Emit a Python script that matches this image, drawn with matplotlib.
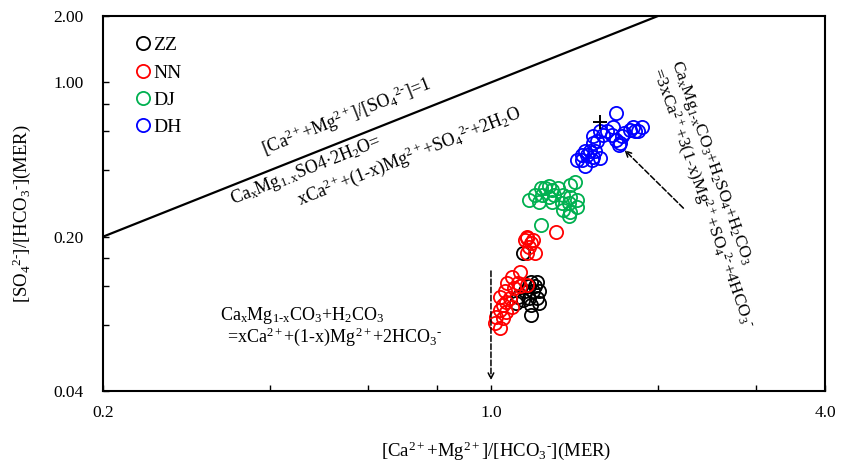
import matplotlib
matplotlib.use("Agg")
import matplotlib.pyplot as plt
from matplotlib.ticker import FixedLocator, FixedFormatter, NullFormatter

plt.rcParams["font.family"] = ["Liberation Serif", "DejaVu Serif"]
plt.rcParams["mathtext.fontset"] = "custom"
plt.rcParams["mathtext.rm"] = "Liberation Serif"
plt.rcParams["mathtext.it"] = "Liberation Serif:italic"
plt.rcParams["mathtext.default"] = "rm"

# [Ca+Mg]/[HCO3] (x) and [SO4]/[HCO3] (y), milliequivalent ratios
zz_x = [1.14, 1.18, 1.21, 1.17, 1.20, 1.15, 1.19, 1.22, 1.12, 1.17, 1.21,
        1.11, 1.14, 1.18, 1.22, 1.18]
zz_y = [0.169, 0.125, 0.125, 0.119, 0.119, 0.113, 0.113, 0.113, 0.107,
        0.1056, 0.1056, 0.100, 0.1034, 0.098, 0.100, 0.0883]

nn_x = [1.31, 1.16, 1.19, 1.16, 1.15, 1.18, 1.17, 1.20, 1.16, 1.09, 1.13,
        1.07, 1.12, 1.16, 1.10, 1.06, 1.04, 1.08, 1.065, 1.05, 1.09, 1.04,
        1.065, 1.02, 1.05, 1.015, 1.04, 1.13]
nn_y = [0.211, 0.197, 0.193, 0.200, 0.193, 0.187, 0.180, 0.169, 0.169,
        0.132, 0.139, 0.123, 0.123, 0.121, 0.117, 0.113, 0.107, 0.1056,
        0.1016, 0.098, 0.0965, 0.0931, 0.0915, 0.0868, 0.0857, 0.0813,
        0.0772, 0.119]

dj_x = [1.42, 1.39, 1.23, 1.25, 1.29, 1.32, 1.20, 1.235, 1.27, 1.35, 1.39,
        1.43, 1.22, 1.29, 1.34, 1.38, 1.43, 1.35, 1.39, 1.38, 1.23, 1.17,
        1.30, 1.27]
dj_y = [0.355, 0.343, 0.333, 0.333, 0.326, 0.333, 0.309, 0.309, 0.304,
        0.309, 0.304, 0.294, 0.288, 0.288, 0.284, 0.284, 0.274, 0.264,
        0.260, 0.247, 0.226, 0.294, 0.310, 0.340]

dh_x = [1.68, 1.57, 1.62, 1.65, 1.59, 1.53, 1.53, 1.55, 1.48, 1.51, 1.54,
        1.46, 1.49, 1.53, 1.46, 1.52, 1.57, 1.48, 1.68, 1.71, 1.74, 1.78,
        1.82, 1.84, 1.80, 1.72, 1.70, 1.43, 1.87, 1.66]
dh_y = [0.725, 0.60, 0.60, 0.58, 0.58, 0.57, 0.53, 0.54, 0.49, 0.49, 0.49,
        0.47, 0.47, 0.46, 0.445, 0.445, 0.455, 0.42, 0.55, 0.53, 0.59, 0.61,
        0.60, 0.60, 0.63, 0.57, 0.52, 0.445, 0.63, 0.63]

groups = ["ZZ", "NN", "DJ", "DH"]
colors = ["black", "red", "#00b050", "blue"]

fig = plt.figure(figsize=(8.42, 4.63), dpi=100)
ax = fig.add_axes([0.1223, 0.1555, 0.8577, 0.81])

for name, xs, ys, c in zip(groups, [zz_x, nn_x, dj_x, dh_x],
                           [zz_y, nn_y, dj_y, dh_y], colors):
    ax.plot(xs, ys, "o", mfc="none", mec=c, mew=1.3, ms=9.5, label=name)

ax.plot([1.57], [0.665], "+", color="black", ms=10, mew=1.4)

# equal-molar line [Ca+Mg] = [SO4]
ax.plot([0.2, 2.0], [0.2, 2.0], color="black", lw=1.6)

ax.set_xscale("log")
ax.set_yscale("log")
ax.set_xlim(0.2, 4.0)
ax.set_ylim(0.04, 2.0)

ax.xaxis.set_major_locator(FixedLocator([0.2, 1.0, 4.0]))
ax.xaxis.set_major_formatter(FixedFormatter(["0.2", "1.0", "4.0"]))
ax.xaxis.set_minor_locator(FixedLocator([0.4, 0.6, 0.8, 2.0, 3.0]))
ax.xaxis.set_minor_formatter(NullFormatter())
ax.yaxis.set_major_locator(FixedLocator([0.04, 0.2, 1.0, 2.0]))
ax.yaxis.set_major_formatter(FixedFormatter(["0.04", "0.20", "1.00", "2.00"]))
ax.yaxis.set_minor_locator(FixedLocator([0.08, 0.12, 0.16, 0.4, 0.6, 0.8]))
ax.yaxis.set_minor_formatter(NullFormatter())

ax.tick_params(which="both", direction="in", length=4, width=1)
ax.tick_params(axis="x", which="major", pad=10, labelsize=12.5)
ax.tick_params(axis="y", which="major", pad=14, labelsize=12.5)
for s in ax.spines.values():
    s.set_linewidth(1.5)

ax.set_xlabel(r"[Ca$^{2+}$+Mg$^{2+}$]/[HCO$_3{}^{\text{-}}$](MER)", fontsize=13.5)
ax.xaxis.set_label_coords(0.544, -0.128)
ax.set_ylabel(r"[SO$_4{}^{2\text{-}}$]/[HCO$_3{}^{\text{-}}$](MER)", fontsize=13.5)
ax.yaxis.set_label_coords(-0.097, 0.472)

ax.legend(loc="upper left", bbox_to_anchor=(0.048, 0.945), frameon=False,
          fontsize=14, handlelength=0.6, handletextpad=0.2, borderpad=0,
          borderaxespad=0, labelspacing=0.5)

ax.text(0.55, 0.70, r"[Ca$^{2+}$+Mg$^{2+}$]/[SO$_4{}^{2\text{-}}$]=1", rotation=21.7,
        rotation_mode="anchor", ha="center", va="center", fontsize=13)
ax.text(0.464, 0.401, r"Ca$_x$Mg$_{1.x}$SO4·2H$_2$O=", rotation=21.7,
        rotation_mode="anchor", ha="center", va="center", fontsize=13)
ax.text(0.714, 0.464,
        r"xCa$^{2+}$+(1-x)Mg$^{2+}$+SO$_4{}^{2\text{-}}$+2H$_2$O",
        rotation=21.7, rotation_mode="anchor", ha="center", va="center",
        fontsize=13)

ax.text(0.325, 0.0875, r"Ca$_x$Mg$_{1\text{-}x}$CO$_3$+H$_2$CO$_3$",
        ha="left", va="center", fontsize=13)
ax.text(0.335, 0.0705, r"=xCa$^{2+}$+(1-x)Mg$^{2+}$+2HCO$_3{}^{\text{-}}$",
        ha="left", va="center", fontsize=13)
ax.annotate("", xy=(1.0, 0.0435), xytext=(1.0, 0.144),
            arrowprops=dict(arrowstyle="->", ls="--", lw=1.1, color="black"))

ax.text(2.49, 0.432,
        r"Ca$_x$Mg$_{1\text{-}x}$CO$_3$+H$_2$SO$_4$+H$_2$CO$_3$",
        rotation=-70.5, rotation_mode="anchor", ha="center", va="center",
        fontsize=12.5)
ax.text(2.40, 0.300,
        r"=3xCa$^{2+}$+3(1-x)Mg$^{2+}$+SO$_4{}^{2\text{-}}$+4HCO$_3{}^{\text{-}}$",
        rotation=-70.5, rotation_mode="anchor", ha="center", va="center",
        fontsize=12.5)
ax.annotate("", xy=(1.726, 0.504), xytext=(2.24, 0.264),
            arrowprops=dict(arrowstyle="->", ls="--", lw=1.1, color="black"))

fig.savefig("out.png", dpi=100)
